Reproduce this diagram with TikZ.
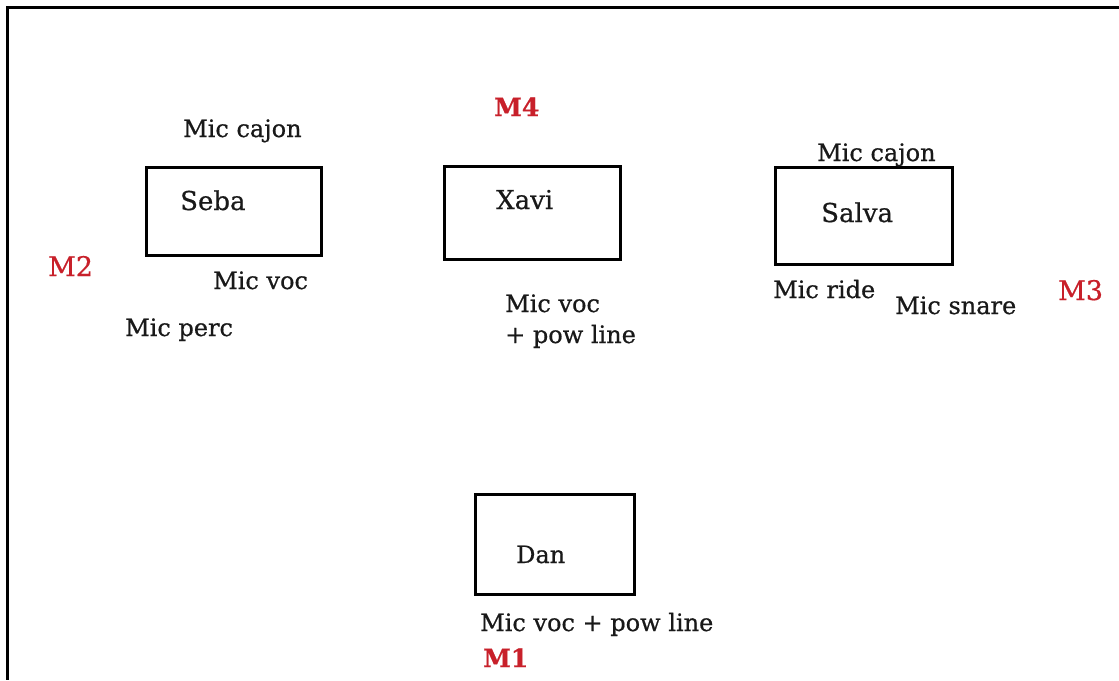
\documentclass[tikz,border=0pt]{standalone}
\usepackage{fontspec}
\setmainfont[FakeBold=0.6]{DejaVu Serif}
\definecolor{mred}{RGB}{200,32,42}
\definecolor{ink}{RGB}{25,25,25}
\begin{document}
\begin{tikzpicture}[x=1pt,y=-1pt,
  box/.style={draw=black,line width=3pt,inner sep=0pt,anchor=north west},
  lbl/.style={inner sep=0pt,anchor=base west,text=ink,font=\fontsize{24}{28}\selectfont},
  who/.style={inner sep=0pt,anchor=base west,text=ink,font=\fontsize{26}{30}\selectfont},
  mk/.style={inner sep=0pt,anchor=base west,text=mred,font=\fontsize{27}{30}\selectfont}]
\useasboundingbox (0,0) rectangle (1119,680);
\fill[white] (0,0) rectangle (1119,680);
\draw[line width=3pt] (1119,7) -- (7,7) -- (7,680);
% boxes
\node[box,minimum width=175pt,minimum height=88pt] (sebabox) at (145,166) {};
\node[box,minimum width=176pt,minimum height=93pt] (xavibox) at (443,165) {};
\node[box,minimum width=177pt,minimum height=97pt] (salvabox) at (774,166) {};
\node[box,minimum width=159pt,minimum height=100pt] (danbox) at (474,493) {};
% names
\node[who] (seba) at (180,210) {Seba};
\node[who] (xavi) at (496,209) {Xavi};
\node[who] (salva) at (821,222) {Salva};
\node[who,font=\fontsize{24}{28}\selectfont] (dan) at (516,563) {Dan};
% Seba labels
\node[lbl] (sebacajon) at (183,137) {Mic cajon};
\node[lbl] (sebavoc) at (213,289) {Mic voc};
\node[lbl] (sebaperc) at (125,336) {Mic perc};
% Xavi labels
\node[lbl] (xavivoc) at (505,312) {Mic voc};
\node[lbl] (xavipow) at (505,343) {+ pow line};
% Salva labels
\node[lbl] (salvacajon) at (817,161) {Mic cajon};
\node[lbl] (salvaride) at (773,298) {Mic ride};
\node[lbl] (salvasnare) at (895,314) {Mic snare};
% Dan label
\node[lbl] (danvoc) at (480,631) {Mic voc + pow line};
% monitors
\node[mk,font=\bfseries\fontsize{25}{30}\selectfont] (m4) at (494,116) {M4};
\node[mk] (m2) at (48,276) {M2};
\node[mk] (m3) at (1058,300) {M3};
\node[mk,font=\bfseries\fontsize{25}{30}\selectfont] (m1) at (483,667) {M1};
\end{tikzpicture}
\end{document}
